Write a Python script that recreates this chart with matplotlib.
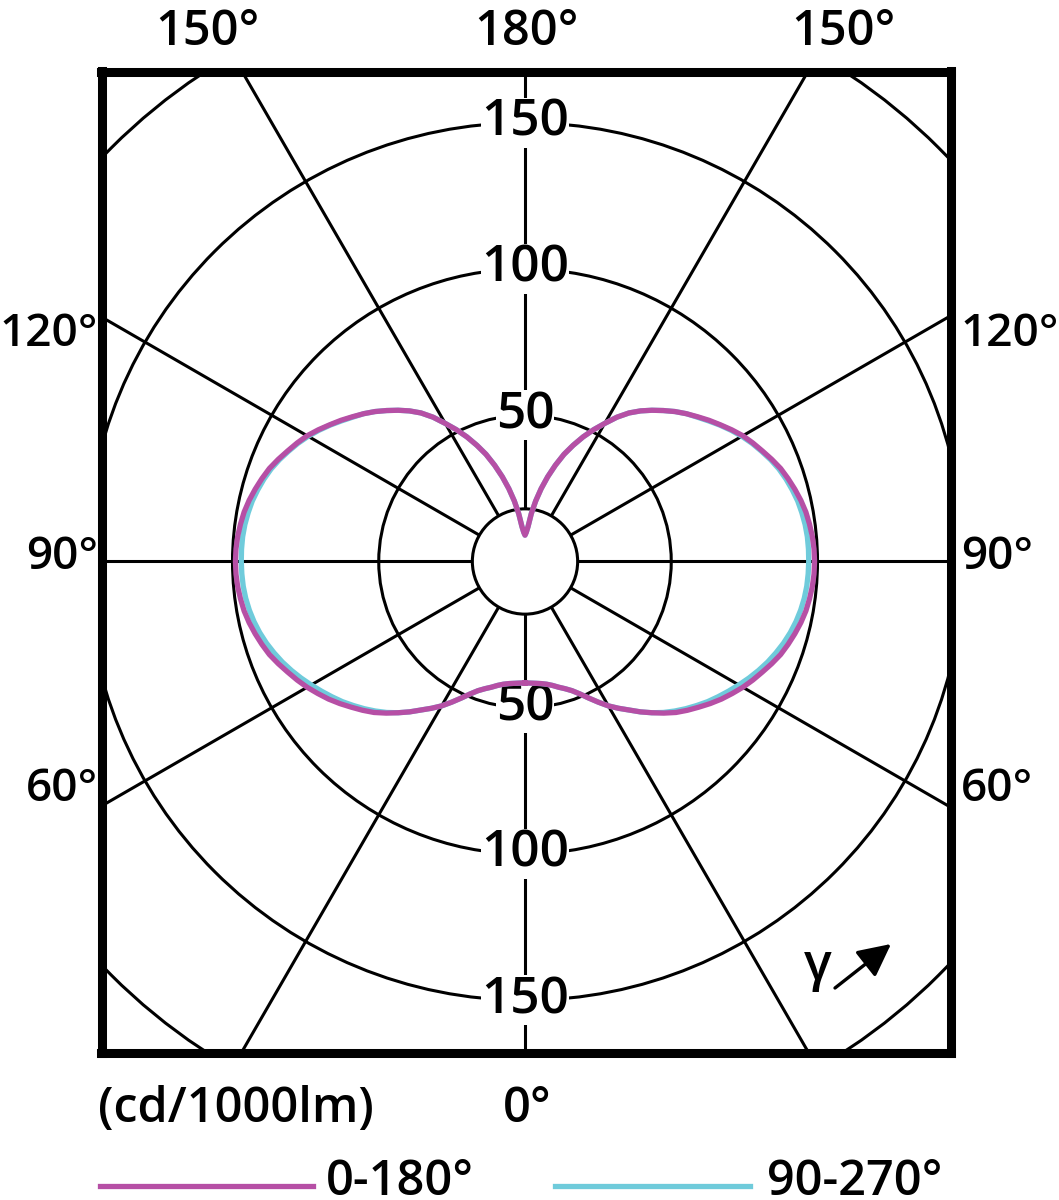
import numpy as np
import matplotlib
matplotlib.use("Agg")
from matplotlib import pyplot as plt
from matplotlib.patches import Circle

# luminous intensity in cd/1000lm, gamma 0 (down) .. 180 (up), 2.5 deg steps
gamma = np.arange(0, 180.1, 2.5)
c0_180 = [41.5, 41.6, 41.8, 42.1, 42.6, 43.4, 44.5, 45.6, 47.0, 49.0,
          51.5, 54.2, 57.0, 59.5, 62.0, 64.8, 67.5, 70.3, 73.0, 75.3,
          77.5, 79.8, 82.0, 84.0, 86.0, 87.8, 89.5, 91.3, 93.0, 94.3,
          95.5, 96.6, 97.5, 98.1, 98.6, 98.9, 99.0, 98.9, 98.6, 98.1,
          97.5, 96.6, 95.5, 94.3, 93.0, 91.3, 89.5, 87.8, 86.0, 83.8,
          81.5, 79.3, 77.0, 74.8, 72.5, 70.0, 67.5, 64.9, 62.0, 58.5,
          54.5, 50.8, 47.0, 43.0, 39.0, 34.5, 30.0, 25.5, 21.0, 16.5,
          12.0, 10.0, 9.0]
c90_270 = [41.5, 41.6, 41.8, 42.1, 42.6, 43.4, 44.5, 45.6, 47.0, 49.0,
           51.5, 54.2, 57.0, 59.5, 62.0, 64.8, 67.5, 70.0, 72.3, 74.5,
           76.6, 78.7, 80.6, 82.5, 84.4, 86.3, 88.1, 89.8, 91.3, 92.7,
           93.9, 94.9, 95.7, 96.3, 96.7, 96.9, 97.0, 97.0, 96.9, 96.6,
           96.1, 95.5, 94.6, 93.6, 92.4, 90.9, 89.2, 87.5, 85.6, 83.5,
           81.3, 79.0, 76.8, 74.8, 72.5, 70.0, 67.5, 64.9, 62.0, 58.5,
           54.5, 50.8, 47.0, 43.0, 39.0, 34.5, 30.0, 25.5, 21.0, 16.5,
           12.0, 10.0, 9.0]
rings = [50, 100, 150, 200]
ring_labels = [50, 100, 150]
hub = 18
spokes = np.arange(0, 360, 30)
angle_labels = ["150°", "180°", "150°", "120°", "90°", "60°", "0°"]
legend_names = ["0-180°", "90-270°"]
colors = ["#B64FA5", "#6FCBDB"]

plt.rcParams['font.family'] = ['Open Sans', 'DejaVu Sans']
plt.rcParams['font.weight'] = 'semibold'

W, H = 1059, 1200
fig = plt.figure(figsize=(W / 100, H / 100), dpi=100)

cx, cy, s = 525.0, 561.5, 2.925   # centre and px per cd/klm
left, right, top, bottom = 101.5, 951.0, 71.5, 1053.0
ax = fig.add_axes([left / W, 1 - bottom / H, (right - left) / W, (bottom - top) / H])
ax.set_xlim((left - cx) / s, (right - cx) / s)
ax.set_ylim(-(bottom - cy) / s, (cy - top) / s)
ax.set_xticks([])
ax.set_yticks([])
for sp in ax.spines.values():
    sp.set_linewidth(6.5)
    sp.set_zorder(10)


def fp(x, y):
    return x / W, 1 - y / H


# grid
for r in rings + [hub]:
    ax.add_patch(Circle((0, 0), r, fill=False, ec='black', lw=2.2, zorder=1))
for a in spokes:
    t = np.radians(a)
    ax.plot([hub * np.sin(t), 400 * np.sin(t)], [-hub * np.cos(t), -400 * np.cos(t)],
            color='black', lw=2.2, zorder=1, solid_capstyle='butt')

for v in ring_labels:
    for sgn in (1, -1):
        ax.text(0, sgn * v, str(v), fontsize=37, ha='center', va='center', zorder=3,
                bbox=dict(boxstyle='square,pad=0.0', fc='white', ec='none'))

# curves, mirrored on both sides
g = np.radians(gamma)
for vals, col, z in [(c90_270, colors[1], 4), (c0_180, colors[0], 5)]:
    r = np.array(vals)
    xs = np.concatenate([r * np.sin(g), -r[::-1] * np.sin(g[::-1])])
    ys = np.concatenate([-r * np.cos(g), -r[::-1] * np.cos(g[::-1])])
    ax.plot(xs, ys, color=col, lw=3.8, zorder=z, solid_joinstyle='round')

# gamma arrow
ax.text((818 - cx) / s, (cy - 980) / s, "γ", fontsize=37, ha='center', va='baseline')
ax.annotate("", xy=((891 - cx) / s, (cy - 944) / s), xytext=((835 - cx) / s, (cy - 988) / s),
            arrowprops=dict(arrowstyle='-|>,head_length=2.0,head_width=1.0', lw=2.4,
                            color='black', shrinkA=0, shrinkB=0))

fs = 35
fig.text(*fp(207, 45), angle_labels[0], fontsize=fs, ha='center', va='baseline')
fig.text(*fp(527, 45), angle_labels[1], fontsize=fs, ha='center', va='baseline')
fig.text(*fp(843, 45), angle_labels[2], fontsize=fs, ha='center', va='baseline')
for lab, yb in [(angle_labels[3], 346), (angle_labels[4], 569), (angle_labels[5], 801)]:
    fig.text(*fp(98, yb), lab, fontsize=fs - 2, ha='right', va='baseline')
    fig.text(*fp(961, yb), lab, fontsize=fs - 2, ha='left', va='baseline')
fig.text(*fp(527, 1122), angle_labels[6], fontsize=fs, ha='center', va='baseline')
fig.text(*fp(98, 1122), "(cd/1000lm)", fontsize=fs, ha='left', va='baseline')

# legend
for (x0, x1, xt), name, col in zip([(100, 313, 326), (555, 750, 767)], legend_names,
                                  [colors[0], colors[1]]):
    fig.add_artist(plt.Line2D([x0 / W, x1 / W], [1 - 1186 / H] * 2, color=col, lw=3.8))
    fig.text(*fp(xt, 1195), name, fontsize=fs, ha='left', va='baseline')

fig.savefig("out.png", dpi=100, facecolor='white')
